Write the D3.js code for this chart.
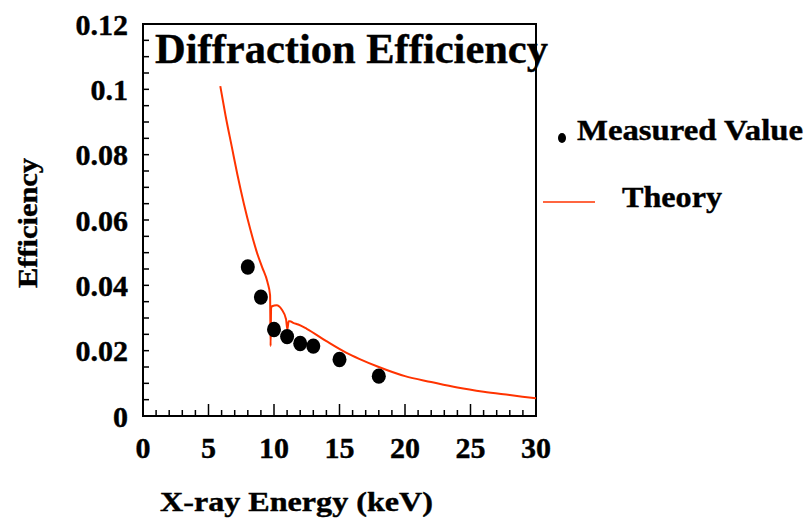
<!DOCTYPE html>
<html><head><meta charset="utf-8">
<script src="https://cdn.jsdelivr.net/npm/d3@7"></script>
<style>body{margin:0;background:#fff}svg{display:block}text{font-family:"Liberation Serif","Times New Roman",serif;font-weight:bold;fill:#000}</style>
</head><body>
<svg id="c" width="810" height="519"></svg>
<script>
const measuredEnergy = [8, 9, 10, 11, 12, 13, 15, 18];
const measuredEff = [0.0456, 0.0364, 0.0265, 0.0243, 0.0222, 0.0214, 0.0173, 0.0122];
const theoryEnergy = [5.9, 6.3, 6.8, 7.2, 7.7, 8.2, 8.7, 9.1, 9.5, 9.7, 9.74, 9.78, 9.85, 10.2, 10.59, 10.92, 11.02, 11.12, 11.22, 11.47, 11.85, 12.5, 14.0, 15.5, 16.5, 18, 20, 22, 24, 26, 28, 30];
const theoryEff = [0.101, 0.092, 0.082, 0.074, 0.065, 0.057, 0.050, 0.0455, 0.041, 0.0370, 0.0214, 0.0330, 0.0336, 0.0339, 0.0326, 0.0296, 0.0265, 0.0290, 0.0290, 0.0285, 0.0280, 0.0267, 0.0229, 0.0194, 0.0175, 0.0150, 0.0122, 0.0104, 0.0087, 0.0074, 0.0064, 0.0054];
const xTicks = [0, 5, 10, 15, 20, 25, 30];
const yTicks = [0, 0.02, 0.04, 0.06, 0.08, 0.1, 0.12];
const yTickLabels = ["0", "0.02", "0.04", "0.06", "0.08", "0.1", "0.12"];
const titleText = "Diffraction Efficiency";
const xTitle = "X-ray Energy (keV)";
const yTitle = "Efficiency";
const legendLabels = ["Measured Value", "Theory"];

const svg = d3.select("#c");
const L = 143, R = 536, T = 24, B = 416;
const x = d3.scaleLinear().domain([0, 30]).range([L, R]);
const y = d3.scaleLinear().domain([0, 0.12]).range([B, T]);
const red = "#ff3300";

// ticks (inside)
const xMinor = d3.range(0, 31, 1);
svg.append("g").selectAll("line").data(xMinor).join("line")
  .attr("x1", d => x(d)).attr("x2", d => x(d))
  .attr("y1", B).attr("y2", d => B - (d % 5 === 0 ? 12 : 6))
  .attr("stroke", "#000").attr("stroke-width", 1.5);
const yMinor = d3.range(0, 25, 1).map(i => i * 0.005);
svg.append("g").selectAll("line").data(yMinor).join("line")
  .attr("x1", L).attr("x2", L + 6)
  .attr("y1", d => y(d)).attr("y2", d => y(d))
  .attr("stroke", "#000").attr("stroke-width", 1.5);

// frame
svg.append("rect").attr("x", L).attr("y", T).attr("width", R - L).attr("height", B - T)
  .attr("fill", "none").attr("stroke", "#000").attr("stroke-width", 2);

// tick labels
svg.append("g").selectAll("text").data(xTicks).join("text")
  .attr("x", d => x(d)).attr("y", 458).attr("text-anchor", "middle")
  .attr("font-size", 30).attr("stroke", "#000").attr("stroke-width", 0.4).text(d => d);
svg.append("g").selectAll("text").data(yTicks).join("text")
  .attr("x", 128).attr("y", d => y(d)).attr("dy", "0.35em").attr("text-anchor", "end")
  .attr("font-size", 30).attr("stroke", "#000").attr("stroke-width", 0.4).text((d, i) => yTickLabels[i]);

// theory line
const line = d3.line().x((d, i) => x(theoryEnergy[i])).y(d => y(d)).curve(d3.curveMonotoneX);
svg.append("path").datum(theoryEff).attr("d", line)
  .attr("fill", "none").attr("stroke", red).attr("stroke-width", 2).attr("stroke-linejoin", "round");

// measured points
svg.append("g").selectAll("ellipse").data(measuredEff).join("ellipse")
  .attr("cx", (d, i) => x(measuredEnergy[i])).attr("cy", d => y(d))
  .attr("rx", 7).attr("ry", 7.7).attr("fill", "#000");

// title
svg.append("text").attr("x", 155).attr("y", 63).attr("font-size", 42)
  .attr("textLength", 393).attr("lengthAdjust", "spacingAndGlyphs")
  .attr("stroke", "#000").attr("stroke-width", 0.4).text(titleText);

// axis titles
svg.append("text").attr("x", 160).attr("y", 511).attr("font-size", 27)
  .attr("textLength", 273).attr("lengthAdjust", "spacingAndGlyphs")
  .attr("stroke", "#000").attr("stroke-width", 0.4).text(xTitle);
svg.append("text").attr("transform", "translate(37,288) rotate(-90)").attr("font-size", 27)
  .attr("textLength", 130).attr("lengthAdjust", "spacingAndGlyphs")
  .attr("stroke", "#000").attr("stroke-width", 0.4).text(yTitle);

// legend
svg.append("ellipse").attr("cx", 562).attr("cy", 138).attr("rx", 4).attr("ry", 5).attr("fill", "#000");
svg.append("text").attr("x", 577).attr("y", 140).attr("font-size", 30)
  .attr("textLength", 226).attr("lengthAdjust", "spacingAndGlyphs")
  .attr("stroke", "#000").attr("stroke-width", 0.4).text(legendLabels[0]);
svg.append("line").attr("x1", 543).attr("x2", 595).attr("y1", 202).attr("y2", 202)
  .attr("stroke", red).attr("stroke-width", 1.5);
svg.append("text").attr("x", 622).attr("y", 207).attr("font-size", 30)
  .attr("textLength", 100).attr("lengthAdjust", "spacingAndGlyphs")
  .attr("stroke", "#000").attr("stroke-width", 0.4).text(legendLabels[1]);
</script>
</body></html>
